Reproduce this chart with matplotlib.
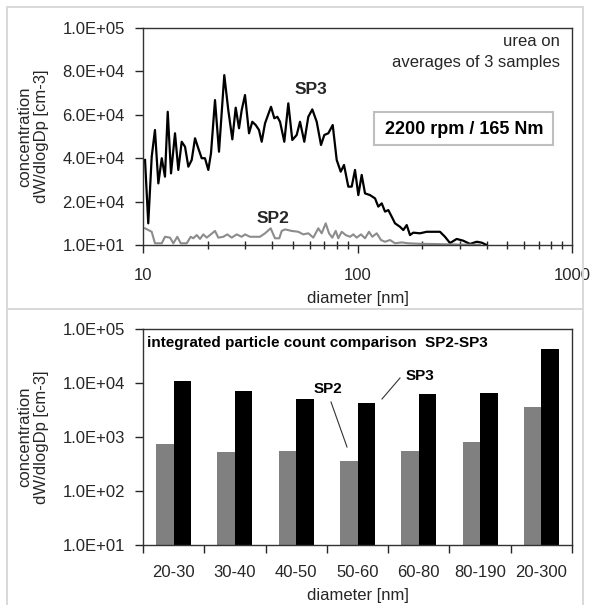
import numpy as np
import matplotlib
matplotlib.use("Agg")
import matplotlib.pyplot as plt
from matplotlib.patches import Rectangle
from matplotlib.ticker import FixedLocator, FuncFormatter, LogLocator, NullFormatter

plt.rcParams['font.family'] = ['Liberation Sans', 'DejaVu Sans']

# size distribution, SP3 (black)
sp3_d = [10.22, 10.58, 10.98, 11.37, 11.79, 12.23, 12.66, 13.04, 13.51, 14.10,
         14.61, 15.15, 15.70, 16.27, 16.87, 17.48, 18.10, 18.78, 19.45, 20.16,
         20.75, 21.66, 22.61, 23.93, 24.98, 26.09, 27.05, 28.03, 28.85, 29.89,
         31.21, 32.33, 33.53, 34.74, 35.76, 37.06, 39.52, 40.95, 42.29, 43.53,
         45.58, 47.58, 49.66, 52.06, 53.95, 56.49, 58.97, 61.56, 64.54, 67.59,
         70.03, 73.11, 76.64, 79.99, 83.50, 86.51, 90.60, 93.97, 97.37, 100.9,
         104.6, 108.4, 114.4, 120.7, 125.0, 129.7, 134.4, 139.2, 144.3, 149.6,
         157.8, 163.5, 169.6, 175.7, 182.0, 195.6, 210.2, 242.4, 255.8, 270.0,
         290.0, 311.0, 334.5, 359.5, 379.0, 400.0]
sp3_c = [39200, 10000, 40700, 53000, 28400, 40000, 31500, 61400, 33000, 51500,
         34600, 47600, 45300, 36100, 39200, 49200, 44600, 40000, 40000, 34600,
         42300, 66800, 43000, 78300, 62200, 48700, 63300, 53800, 62200, 69100,
         51500, 56800, 55300, 53000, 47600, 56100, 63700, 58400, 59100, 56800,
         47600, 65300, 48400, 50700, 56800, 47600, 59100, 62500, 56800, 46100,
         50700, 51500, 55300, 39200, 33800, 36900, 26900, 26900, 34600, 23000,
         32300, 23800, 23000, 21500, 17700, 19200, 15400, 16100, 13100, 10000,
         8400, 6900, 9200, 4600, 5700, 5400, 6100, 6100, 3800, 900,
         2800, 2000, 500, 1500, 1100, 10]

# size distribution, SP2 (grey)
sp2_d = [10.22, 10.98, 11.37, 12.23, 12.66, 13.37, 13.85, 14.45, 14.99, 15.99,
         16.69, 17.16, 17.80, 18.44, 19.10, 19.82, 20.53, 21.66, 22.44, 23.68,
         24.72, 25.91, 27.35, 28.85, 29.89, 31.53, 33.27, 35.11, 37.06, 39.38,
         41.24, 43.19, 44.33, 45.92, 49.33, 52.97, 55.89, 58.97, 62.22, 65.65,
         68.10, 71.09, 73.65, 76.30, 79.14, 81.38, 84.40, 88.10, 92.26, 95.59,
         99.15, 103.8, 108.4, 113.1, 117.2, 122.9, 128.7, 134.4, 141.8, 149.6,
         160.7, 172.5, 192.1, 242.4, 300.6, 372.5]
sp2_c = [7700, 6100, 800, 800, 3800, 3400, 800, 3800, 800, 800,
         3800, 3100, 4600, 2800, 4900, 3400, 4600, 6500, 3400, 3800,
         4900, 3400, 4900, 3800, 4900, 3800, 3800, 3800, 5400, 7700,
         3100, 3100, 6500, 7200, 6500, 6100, 4900, 5400, 3400, 7700,
         5400, 10000, 5400, 3400, 6500, 3100, 6100, 4600, 3800, 4900,
         3400, 4900, 3100, 6100, 3800, 5400, 2300, 1500, 2300, 800,
         1200, 800, 600, 400, 200, 100]

# integrated counts
bins = ["20-30", "30-40", "40-50", "50-60", "60-80", "80-190", "20-300"]
int_sp2 = [733, 527, 557, 359, 560, 818, 3640]
int_sp3 = [10900, 7110, 5060, 4310, 6250, 6610, 42100]

txt = '#262626'
fs = 12
W, H = 590, 605
fig = plt.figure(figsize=(W / 100, H / 100), dpi=100)

# chart area frames
for (x0, y0, x1, y1) in [(7, 7, 583, 309), (7, 309, 583, 612)]:
    fig.patches.append(Rectangle((x0 / W, 1 - y1 / H), (x1 - x0) / W, (y1 - y0) / H,
                                 transform=fig.transFigure, fill=False,
                                 edgecolor='#d9d9d9', lw=1.4))

def fmt(v, pos):
    return "%.1E" % v

ylab = "concentration\ndW/dlogDp [cm-3]"

#---------------------------------------------------------------------------
# top: size distribution
ax1 = fig.add_axes([143 / W, 1 - 245 / H, 429 / W, 217 / H])
ax1.plot(sp3_d, sp3_c, color='black', lw=1.6)
ax1.plot(sp2_d, sp2_c, color='#8c8c8c', lw=1.5)
ax1.set_xscale('log')
ax1.set_xlim(10, 1000)
ax1.set_ylim(10, 100010)
ax1.yaxis.set_major_locator(FixedLocator([10 + 20000 * k for k in range(6)]))
ax1.yaxis.set_major_formatter(FuncFormatter(fmt))
ax1.xaxis.set_major_formatter(FuncFormatter(lambda v, p: "%d" % v))
ax1.xaxis.set_minor_locator(LogLocator(base=10, subs=np.arange(2, 10)))
ax1.xaxis.set_minor_formatter(NullFormatter())
ax1.tick_params(axis='x', which='major', direction='out', length=6, width=1,
                colors=txt, labelsize=fs, pad=10.5)
ax1.tick_params(axis='x', which='minor', direction='inout', length=6, width=1,
                colors=txt)
ax1.tick_params(axis='y', direction='out', length=6, width=1, colors=txt,
                labelsize=fs, pad=7)
for s in ax1.spines.values():
    s.set_color('#333333')
    s.set_linewidth(1)
ax1.set_xlabel("diameter [nm]", fontsize=fs, color=txt)
ax1.xaxis.set_label_coords(0.5, -(298 + 8 - 245) / 217)
ax1.xaxis.label.set_va('bottom')
ax1.set_ylabel(ylab, fontsize=fs, color=txt, linespacing=1.15)
ax1.yaxis.set_label_coords(-(143 - 49) / 429, 0.5)

fig.text(560 / W, 1 - 42 / H, "urea on", ha='right', va='center', fontsize=fs, color=txt)
fig.text(560 / W, 1 - 63 / H, "averages of 3 samples", ha='right', va='center',
         fontsize=fs, color=txt)
fig.text(311 / W, 1 - 90 / H, "SP3", ha='center', va='center', fontsize=12.5,
         fontweight='bold', color=txt)
fig.text(273 / W, 1 - 219 / H, "SP2", ha='center', va='center', fontsize=12.5,
         fontweight='bold', color=txt)
fig.text(464 / W, 1 - 129 / H, "2200 rpm / 165 Nm", ha='center', va='center',
         fontsize=13, fontweight='bold', color='black')
fig.patches.append(Rectangle((374 / W, 1 - 145 / H), 179 / W, 33 / H,
                             transform=fig.transFigure, fill=False,
                             edgecolor='#bfbfbf', lw=1.5))

#---------------------------------------------------------------------------
# bottom: integrated counts
ax2 = fig.add_axes([143 / W, 1 - 545 / H, 429 / W, 216 / H])
x = np.arange(len(bins))
bw = 0.285
ax2.bar(x - bw / 2, int_sp2, width=bw, color='#808080', bottom=0)
ax2.bar(x + bw / 2, int_sp3, width=bw, color='black', bottom=0)
ax2.set_yscale('log')
ax2.set_ylim(10, 1e5)
ax2.set_xlim(-0.5, len(bins) - 0.5)
ax2.yaxis.set_major_locator(FixedLocator([10, 100, 1000, 1e4, 1e5]))
ax2.yaxis.set_major_formatter(FuncFormatter(fmt))
ax2.yaxis.set_minor_locator(FixedLocator([]))
ax2.set_xticks(x)
ax2.set_xticklabels(bins)
ax2.set_xticks(np.arange(len(bins) + 1) - 0.5, minor=True)
ax2.tick_params(axis='x', which='major', length=0, colors=txt, labelsize=fs, pad=14.5)
ax2.tick_params(axis='x', which='minor', direction='out', length=6, width=1, colors=txt)
ax2.tick_params(axis='y', direction='out', length=6, width=1, colors=txt,
                labelsize=fs, pad=7)
for s in ax2.spines.values():
    s.set_color('#333333')
    s.set_linewidth(1)
ax2.set_xlabel("diameter [nm]", fontsize=fs, color=txt)
ax2.xaxis.set_label_coords(0.5, -(595 + 8 - 545) / 216)
ax2.xaxis.label.set_va('bottom')
ax2.set_ylabel(ylab, fontsize=fs, color=txt, linespacing=1.15)
ax2.yaxis.set_label_coords(-(143 - 49) / 429, 0.5)

fig.text(147 / W, 1 - 343 / H, "integrated particle count comparison  SP2-SP3",
         ha='left', va='center', fontsize=11, fontweight='bold', color='black')
fig.text(328 / W, 1 - 389 / H, "SP2", ha='center', va='center', fontsize=11,
         fontweight='bold', color='black')
fig.text(420 / W, 1 - 376 / H, "SP3", ha='center', va='center', fontsize=11,
         fontweight='bold', color='black')
fig.add_artist(plt.Line2D([331 / W, 347 / W], [1 - 402 / H, 1 - 447 / H],
                          transform=fig.transFigure, color='#333333', lw=0.8))
fig.add_artist(plt.Line2D([400 / W, 382 / W], [1 - 378 / H, 1 - 399 / H],
                          transform=fig.transFigure, color='#333333', lw=0.8))

fig.savefig("out.png", dpi=100, facecolor='white')
